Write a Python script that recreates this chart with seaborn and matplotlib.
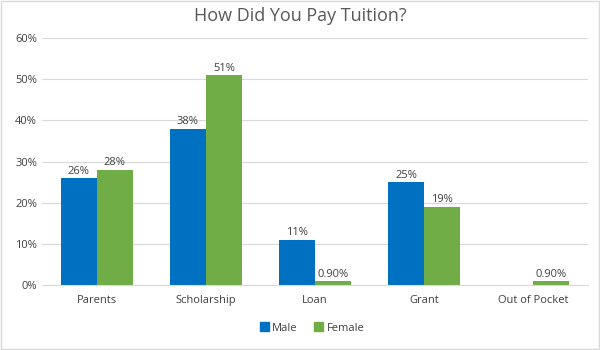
import matplotlib
matplotlib.use("Agg")
import matplotlib.pyplot as plt
import seaborn as sns
import pandas as pd
import numpy as np

categories = ["Parents", "Scholarship", "Loan", "Grant", "Out of Pocket"]
male = [26, 38, 11, 25, 0]
female = [28, 51, 0.9, 19, 0.9]
male_labels = ["26%", "38%", "11%", "25%", ""]
female_labels = ["28%", "51%", "0.90%", "19%", "0.90%"]
yticks = [0, 10, 20, 30, 40, 50, 60]

sns.set_style("white")
plt.rcParams['font.family'] = ['Open Sans', 'DejaVu Sans']

df = pd.DataFrame({
    "Category": categories * 2,
    "Value": male + female,
    "Gender": ["Male"] * len(categories) + ["Female"] * len(categories),
})

fig = plt.figure(figsize=(6, 3.5), dpi=100)
ax = fig.add_axes([0.07, 0.186, 0.91, 0.705])
sns.barplot(data=df, x="Category", y="Value", hue="Gender",
            palette={"Male": "#0070C0", "Female": "#70AD47"},
            width=0.66, ax=ax, saturation=1, legend=False, linewidth=0)

ax.set_ylim(0, 60)
ax.set_xlim(-0.5, 4.5)
ax.set_yticks(yticks)
ax.set_yticklabels([f"{t}%" for t in yticks])
ax.yaxis.grid(True, color="#D9D9D9", linewidth=0.8)
ax.set_axisbelow(True)
for s in ["top", "right", "left"]:
    ax.spines[s].set_visible(False)
ax.spines["bottom"].set_color("#D9D9D9")
ax.tick_params(axis="both", length=0, labelsize=8, colors="#404040")
ax.tick_params(axis="x", pad=7)
ax.set_xlabel("")
ax.set_ylabel("")

for cont, labs in zip(ax.containers, [male_labels, female_labels]):
    ax.bar_label(cont, labels=labs, fontsize=8, color="#404040", padding=1)

fig.suptitle("How Did You Pay Tuition?", y=0.98, fontsize=13, color="#595959")

from matplotlib.patches import Patch
handles = [Patch(color="#0070C0", label="Male"), Patch(color="#70AD47", label="Female")]
fig.legend(handles=handles, loc="center", bbox_to_anchor=(0.52, 0.063), ncol=2,
           frameon=False, fontsize=8, handlelength=0.8, handleheight=0.8,
           handletextpad=0.3, columnspacing=1.5, labelcolor="#404040")

border = plt.Rectangle((0.002, 0.003), 0.996, 0.994, transform=fig.transFigure,
                       fill=False, edgecolor="#D9D9D9", linewidth=1)
fig.patches.append(border)

fig.savefig("out.png", dpi=100)
